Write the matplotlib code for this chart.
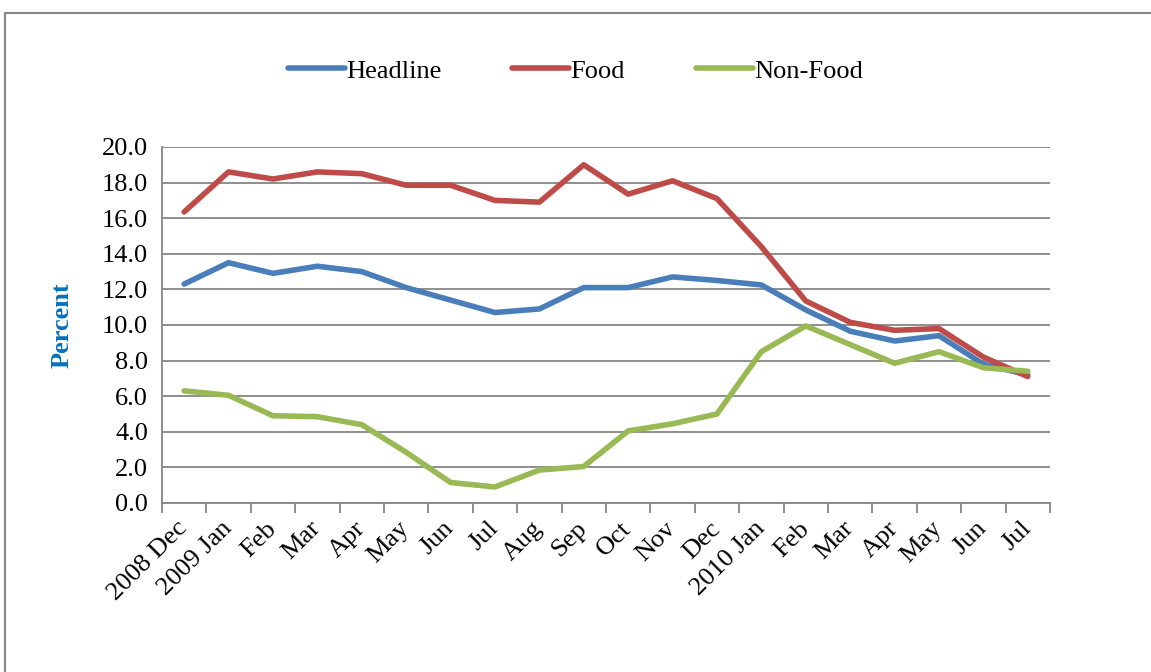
import matplotlib
matplotlib.use("Agg")
import matplotlib.pyplot as plt
from matplotlib.patches import Rectangle
import numpy as np

months = ["2008 Dec", "2009 Jan", "Feb", "Mar", "Apr", "May", "Jun", "Jul",
          "Aug", "Sep", "Oct", "Nov", "Dec", "2010 Jan", "Feb", "Mar", "Apr",
          "May", "Jun", "Jul"]
headline = [12.3, 13.5, 12.9, 13.3, 13.0, 12.1, 11.4, 10.7, 10.9, 12.1,
            12.1, 12.7, 12.5, 12.25, 10.85, 9.65, 9.1, 9.4, 7.8, 7.2]
food = [16.35, 18.6, 18.2, 18.6, 18.5, 17.85, 17.85, 17.0, 16.9, 19.0,
        17.35, 18.1, 17.1, 14.4, 11.35, 10.15, 9.7, 9.8, 8.2, 7.1]
non_food = [6.3, 6.05, 4.9, 4.85, 4.4, 2.85, 1.15, 0.9, 1.85, 2.05,
            4.05, 4.45, 5.0, 8.5, 9.95, 8.9, 7.85, 8.5, 7.6, 7.4]

plt.rcParams["font.family"] = ["Liberation Serif", "DejaVu Serif"]
fs = 19

fig = plt.figure(figsize=(11.51, 6.72), dpi=100)
ax = fig.add_axes([0.1407, 0.2515, 0.7715, 0.5298])

# outer chart border
fig.patches.append(Rectangle((5 / 1151, -0.01), 1.2, 1 - 13 / 672 + 0.01,
                             transform=fig.transFigure, fill=False,
                             edgecolor="#868686", lw=1.5))

x = np.arange(len(months))
ax.plot(x, headline, color="#4A7EBB", lw=4, label="Headline", solid_capstyle="round")
ax.plot(x, food, color="#BE4B48", lw=4, label="Food", solid_capstyle="round")
ax.plot(x, non_food, color="#98B954", lw=4, label="Non-Food", solid_capstyle="round")

ax.set_xlim(-0.5, len(months) - 0.5)
ax.set_ylim(0, 20)
ax.set_yticks(np.arange(0, 20.1, 2))
ax.set_yticklabels([f"{v:.1f}" for v in np.arange(0, 20.1, 2)], fontsize=fs)
ax.yaxis.grid(True, color="#868686", lw=1.3)
ax.set_axisbelow(True)

ax.set_xticks(x)
ax.set_xticklabels(months, rotation=45, ha="right", va="center",
                   rotation_mode="anchor", fontsize=fs)
ax.tick_params(axis="x", length=0, pad=16)
ax.set_xticks(np.arange(-0.5, len(months), 1), minor=True)
ax.tick_params(axis="x", which="minor", length=7, color="#868686", width=1.3)
ax.tick_params(axis="y", length=0, pad=10)

for side in ["top", "right"]:
    ax.spines[side].set_visible(False)
for side in ["left", "bottom"]:
    ax.spines[side].set_color("#868686")
    ax.spines[side].set_linewidth(1.3)

ax.set_ylabel("Percent", fontsize=fs, fontweight="bold", color="#0070C0", labelpad=20)

fig.legend(loc="center", bbox_to_anchor=(0.5, 1 - 71 / 672), ncol=3, frameon=False,
           fontsize=fs, handlelength=2.15, handletextpad=0.05, columnspacing=2.7)

fig.savefig("out.png", dpi=100)
